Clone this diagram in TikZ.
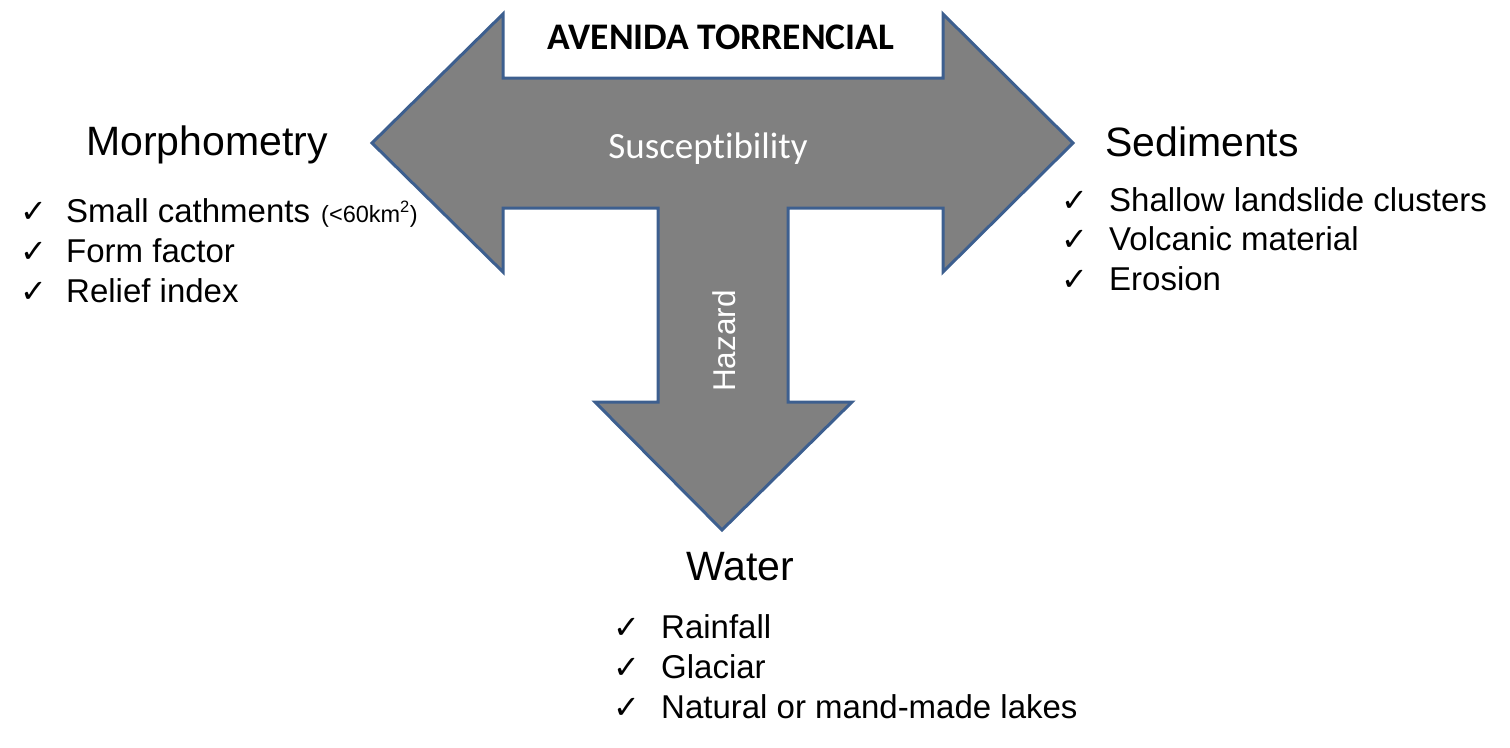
\documentclass[tikz,border=0pt]{standalone}
\usepackage{fontspec}
\setmainfont{Liberation Sans}
\newfontfamily\calib[Ligatures=NoCommon]{Carlito}
\newfontfamily\sym{DejaVu Sans}
\definecolor{arrowfill}{RGB}{128,128,128}
\definecolor{arrowline}{RGB}{61,95,143}
\tikzset{
  bigarrow/.style={fill=arrowfill,draw=arrowline,line width=3pt,line join=miter},
  heading/.style={anchor=base west,inner sep=0pt,font=\fontsize{41}{49}\selectfont},
  item/.style={anchor=base west,inner sep=0pt,font=\fontsize{33}{39}\selectfont},
  tick/.style={anchor=base west,inner sep=0pt,font=\sym\fontsize{32}{38}\selectfont},
  intext/.style={inner sep=0pt,text=white}
}
\begin{document}
\begin{tikzpicture}[x=1pt,y=-1pt]
\useasboundingbox (0,0) rectangle (1510,747);
% T-shaped three-way arrow
\draw[bigarrow] (372,143) -- (503,14) -- (503,78) -- (943,78) -- (943,14) -- (1073,143)
  -- (943,272) -- (943,208) -- (788,208) -- (788,402) -- (852,402) -- (722,530)
  -- (595,402) -- (658,402) -- (658,208) -- (503,208) -- (503,272) -- cycle;
% labels in the arrow
\node[anchor=base,inner sep=0pt,font=\calib\bfseries\fontsize{37.5}{44}\selectfont] (title) at (721,49) {AVENIDA TORRENCIAL};
\node[intext,anchor=base,font=\calib\fontsize{37}{44}\selectfont] (susc) at (708,158) {Susceptibility};
\node[intext,anchor=base,rotate=90,font=\fontsize{31.5}{38}\selectfont] (haz) at (735,341) {Hazard};
% Morphometry
\node[heading] (morph) at (86,155) {Morphometry};
\node[tick] (m1t) at (20,222) {✓};
\node[item] (m1) at (66,222) {Small cathments};
\node[anchor=base west,inner sep=0pt,font=\fontsize{23.5}{28}\selectfont] (m1s) at (321,222) {(<60km\textsuperscript{2})};
\node[tick] (m2t) at (20,262) {✓};
\node[item] (m2) at (66,262) {Form factor};
\node[tick] (m3t) at (20,302) {✓};
\node[item] (m3) at (66,302) {Relief index};
% Sediments
\node[heading] (sed) at (1105,156) {Sediments};
\node[tick] (s1t) at (1061,211) {✓};
\node[item] (s1) at (1109,211) {Shallow landslide clusters};
\node[tick] (s2t) at (1061,250) {✓};
\node[item] (s2) at (1109,250) {Volcanic material};
\node[tick] (s3t) at (1061,290) {✓};
\node[item] (s3) at (1109,290) {Erosion};
% Water
\node[heading] (wat) at (686,580) {Water};
\node[tick] (w1t) at (613,638) {✓};
\node[item] (w1) at (661,638) {Rainfall};
\node[tick] (w2t) at (613,678) {✓};
\node[item] (w2) at (661,678) {Glaciar};
\node[tick] (w3t) at (613,718) {✓};
\node[item] (w3) at (661,718) {Natural or mand-made lakes};
\end{tikzpicture}
\end{document}
